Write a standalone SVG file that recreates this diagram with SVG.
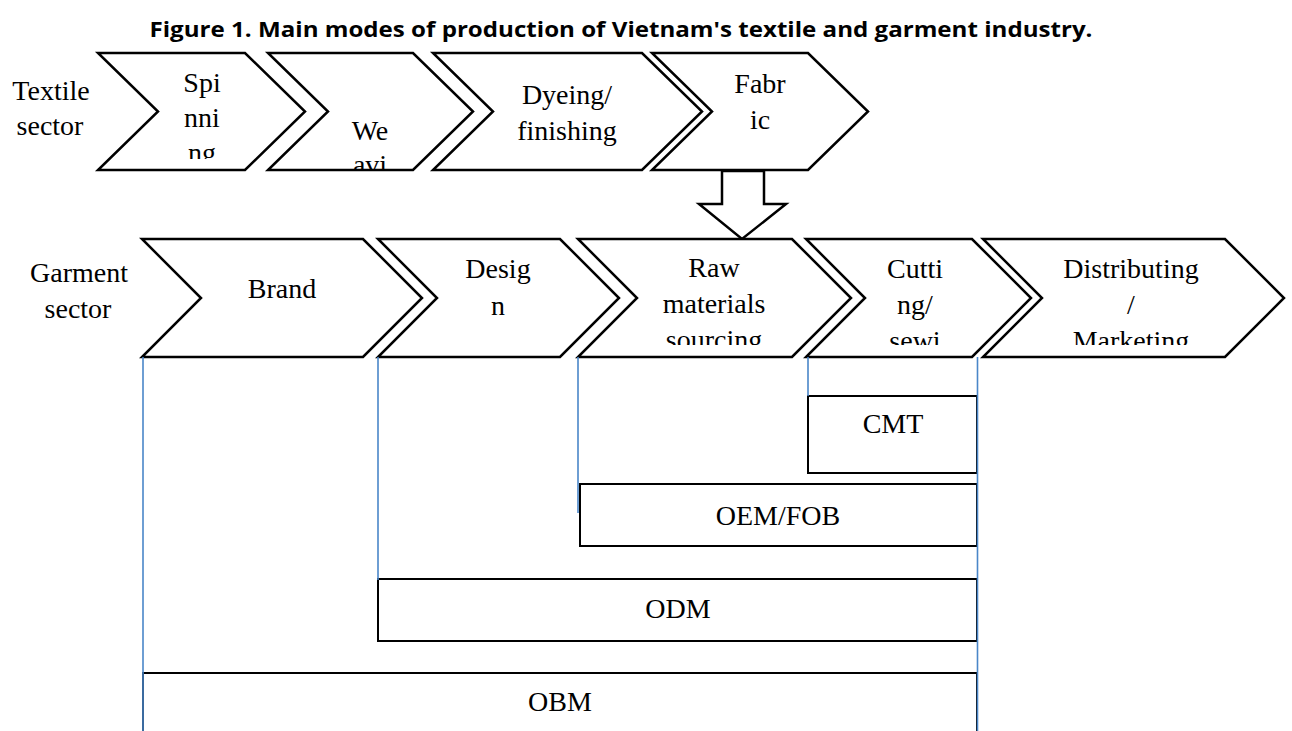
<svg xmlns="http://www.w3.org/2000/svg" width="1292" height="731" viewBox="0 0 1292 731">
<style>
.chev{fill:#fff;stroke:#000;stroke-width:2.5;stroke-linejoin:miter}
.box{fill:#fff;stroke:#000;stroke-width:2}
.t{font-family:"Liberation Serif","Times New Roman",serif;font-size:28px;fill:#000;text-anchor:middle}
.title{font-family:"Open Sans","Liberation Sans",sans-serif;font-size:21px;font-weight:bold;fill:#000;text-anchor:middle}
.blue{stroke:#4a86c8;stroke-width:1.6;fill:none}
</style>
<defs>
<clipPath id="ct"><rect x="0" y="53" width="1292" height="106"/></clipPath>
<clipPath id="cw"><rect x="0" y="53" width="1292" height="116"/></clipPath>
<clipPath id="cg"><rect x="0" y="239" width="1292" height="106"/></clipPath>
</defs>
<rect width="1292" height="731" fill="#fff"/>
<text class="title" x="621" y="37" textLength="943" lengthAdjust="spacingAndGlyphs">Figure 1. Main modes of production of Vietnam's textile and garment industry.</text>

<g id="textile-label"><text class="t" x="51" y="100">Textile</text><text class="t" x="50" y="135">sector</text></g>
<g id="garment-label"><text class="t" x="79" y="282">Garment</text><text class="t" x="78" y="318">sector</text></g>

<g id="spinning"><polygon class="chev" points="98,53 245,53 305,111.5 245,170 98,170 158,111.5"/>
<g clip-path="url(#ct)"><text class="t" x="202" y="92">Spi</text><text class="t" x="202" y="127">nni</text><text class="t" x="202" y="162">ng</text></g></g>
<g id="weaving"><polygon class="chev" points="268,53 413,53 473,111.5 413,170 268,170 328,111.5"/>
<g clip-path="url(#cw)"><text class="t" x="370" y="140">We</text><text class="t" x="370" y="174">avi</text></g></g>
<g id="dyeing"><polygon class="chev" points="433,53 642,53 702,111.5 642,170 433,170 493,111.5"/>
<g clip-path="url(#ct)"><text class="t" x="567" y="104">Dyeing/</text><text class="t" x="567" y="140">finishing</text></g></g>
<g id="fabric"><polygon class="chev" points="652,53 808,53 868,111.5 808,170 652,170 712,111.5"/>
<g clip-path="url(#ct)"><text class="t" x="760" y="93">Fabr</text><text class="t" x="760" y="129">ic</text></g></g>

<g id="arrow"><polygon class="chev" points="722,171 764,171 764,204 786,204 742,239 699,204 722,204"/></g>

<g id="brand"><polygon class="chev" points="142,239 363,239 422,298 363,357 142,357 201,298"/>
<text class="t" x="282" y="298">Brand</text></g>
<g id="design"><polygon class="chev" points="378,239 560,239 619,298 560,357 378,357 437,298"/>
<g clip-path="url(#cg)"><text class="t" x="498" y="278">Desig</text><text class="t" x="498" y="315">n</text></g></g>
<g id="raw"><polygon class="chev" points="578,239 792,239 851,298 792,357 578,357 637,298"/>
<g clip-path="url(#cg)"><text class="t" x="714" y="277">Raw</text><text class="t" x="714" y="313">materials</text><text class="t" x="714" y="349">sourcing</text></g></g>
<g id="cutting"><polygon class="chev" points="806,239 972,239 1031,298 972,357 806,357 865,298"/>
<g clip-path="url(#cg)"><text class="t" x="915" y="278">Cutti</text><text class="t" x="915" y="314">ng/</text><text class="t" x="915" y="350">sewi</text></g></g>
<g id="distributing"><polygon class="chev" points="983,239 1225,239 1284,298 1225,357 983,357 1042,298"/>
<g clip-path="url(#cg)"><text class="t" x="1131" y="278">Distributing</text><text class="t" x="1131" y="314">/</text><text class="t" x="1131" y="350">Marketing</text></g></g>

<g id="cmt"><rect class="box" x="808" y="396" width="169" height="77"/><text class="t" x="893" y="433">CMT</text></g>
<g id="oem"><rect class="box" x="580" y="484" width="397" height="62"/><text class="t" x="778" y="525">OEM/FOB</text></g>
<g id="odm"><rect class="box" x="378" y="579" width="599" height="62"/><text class="t" x="678" y="618">ODM</text></g>
<g id="obm"><rect class="box" x="143" y="673" width="834" height="80"/><text class="t" x="560" y="711">OBM</text></g>

<g id="connectors">
<line class="blue" x1="143" y1="357" x2="143" y2="731"/>
<line class="blue" x1="378" y1="357" x2="378" y2="580"/>
<line class="blue" x1="578" y1="357" x2="578" y2="513"/>
<line class="blue" x1="808" y1="357" x2="808" y2="396"/>
<line class="blue" x1="977.5" y1="357" x2="977.5" y2="731" stroke="#2e75b6"/>
</g>
</svg>
